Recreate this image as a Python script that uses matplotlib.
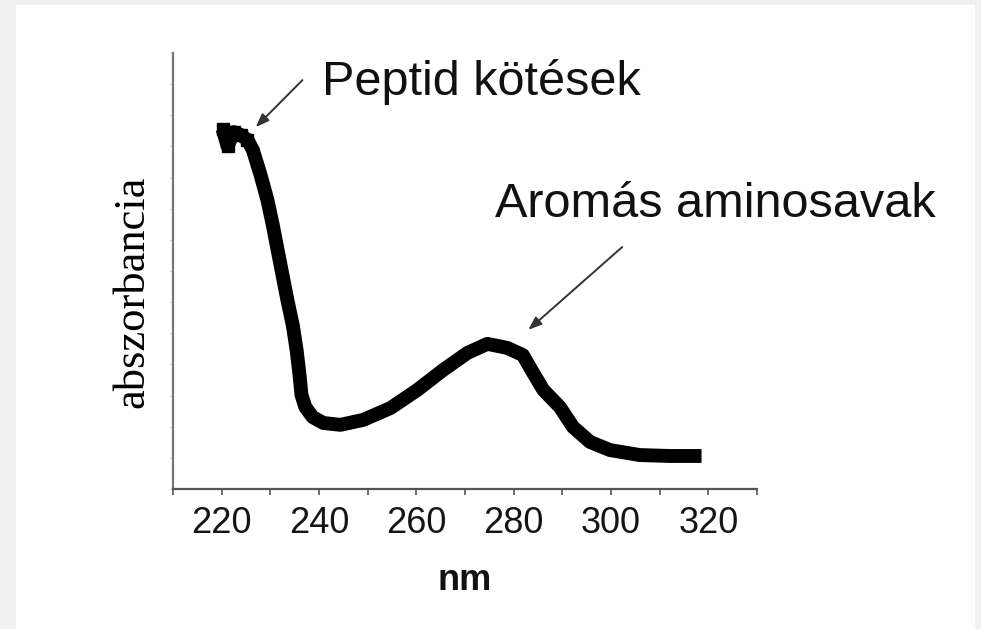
import matplotlib
matplotlib.use("Agg")
import matplotlib.pyplot as plt
from matplotlib.patches import Rectangle
from matplotlib.ticker import MultipleLocator

# (y in arbitrary absorbance units)
wavelength = [220.2, 221.2, 222.5, 223.9, 225.3, 226.4, 228.0, 229.4, 230.5,
              231.5, 232.5, 233.5, 234.6, 235.4, 236.0, 236.4, 237.2, 238.7,
              240.9, 244.4, 249.1, 254.7, 260.2, 265.5, 270.5, 274.6, 278.7,
              281.9, 284.0, 286.1, 289.5, 292.2, 295.7, 299.8, 305.9, 312.1,
              318.6]
absorbance = [11.56, 11.01, 11.46, 11.37, 11.21, 10.89, 10.08, 9.28, 8.48,
              7.67, 6.87, 6.07, 5.27, 4.46, 3.66, 3.02, 2.63, 2.31,
              2.12, 2.06, 2.22, 2.60, 3.18, 3.82, 4.37, 4.66, 4.53,
              4.30, 3.73, 3.18, 2.63, 1.99, 1.51, 1.25, 1.09, 1.06,
              1.06]
x_ticks = [220, 240, 260, 280, 300, 320]

peptide_label = "Peptid kötések"
peptide_tip = (227.0, 11.62)
peptide_tail = (236.6, 13.13)
aromatic_label = "Aromás aminosavak"
aromatic_tip = (283.0, 5.11)
aromatic_tail = (302.3, 7.77)

W, H = 981, 629
fig = plt.figure(figsize=(W / 100, H / 100), dpi=100, facecolor="#f0f0f0")
fig.patches.append(Rectangle((16 / W, 0), (975 - 16) / W, (H - 5) / H,
                             transform=fig.transFigure, facecolor="white",
                             edgecolor="none", zorder=-10))

ax = fig.add_axes([173 / W, (H - 489) / H, (757 - 173) / W, (489 - 53) / H])
ax.set_facecolor("none")

ax.plot(wavelength, absorbance, color="black", lw=10,
        solid_capstyle="butt", solid_joinstyle="round")
ax.plot(wavelength[:5], absorbance[:5], ls="none", marker="s", ms=9,
        color="black")

ax.set_xlim(210, 330)
ax.set_ylim(0, 14)
ax.set_xticks(x_ticks)
ax.xaxis.set_minor_locator(MultipleLocator(10))
ax.yaxis.set_major_locator(MultipleLocator(1))
ax.set_yticklabels([])

for side in ("top", "right"):
    ax.spines[side].set_visible(False)
ax.spines["left"].set_color("#777777")
ax.spines["bottom"].set_color("#555555")
ax.spines["left"].set_linewidth(1.6)
ax.spines["bottom"].set_linewidth(1.6)

ax.tick_params(axis="x", which="both", direction="out", length=4,
               width=1.2, color="#555555")
ax.tick_params(axis="x", which="major", labelsize=26, pad=8,
               labelcolor="#151515")
for lab in ax.get_xticklabels():
    lab.set_fontfamily("Liberation Sans")
ax.tick_params(axis="y", direction="out", length=2, width=0.8,
               color="#cccccc")

fig.text(465 / W, 1 - 590 / H, "nm", family="Liberation Sans",
         fontweight="bold", fontsize=26, ha="center", va="baseline",
         color="#111111")
fig.text(132 / W, 1 - 292 / H, "abszorbancia", family="Liberation Serif",
         fontsize=32, rotation=90, ha="center", va="center", color="black")

arrow = dict(arrowstyle="-|>,head_length=0.8,head_width=0.3",
             color="#333333", lw=1.4, shrinkA=0, shrinkB=0)
ax.annotate("", xy=peptide_tip, xytext=peptide_tail, arrowprops=arrow,
            annotation_clip=False)
ax.annotate("", xy=aromatic_tip, xytext=aromatic_tail, arrowprops=arrow,
            annotation_clip=False)

fig.text(322 / W, 1 - 95 / H, peptide_label, family="Liberation Sans",
         fontsize=35, ha="left", va="baseline", color="#111111")
fig.text(495 / W, 1 - 217 / H, aromatic_label, family="Liberation Sans",
         fontsize=35, ha="left", va="baseline", color="#111111")

fig.savefig("out.png", dpi=100, facecolor=fig.get_facecolor())
